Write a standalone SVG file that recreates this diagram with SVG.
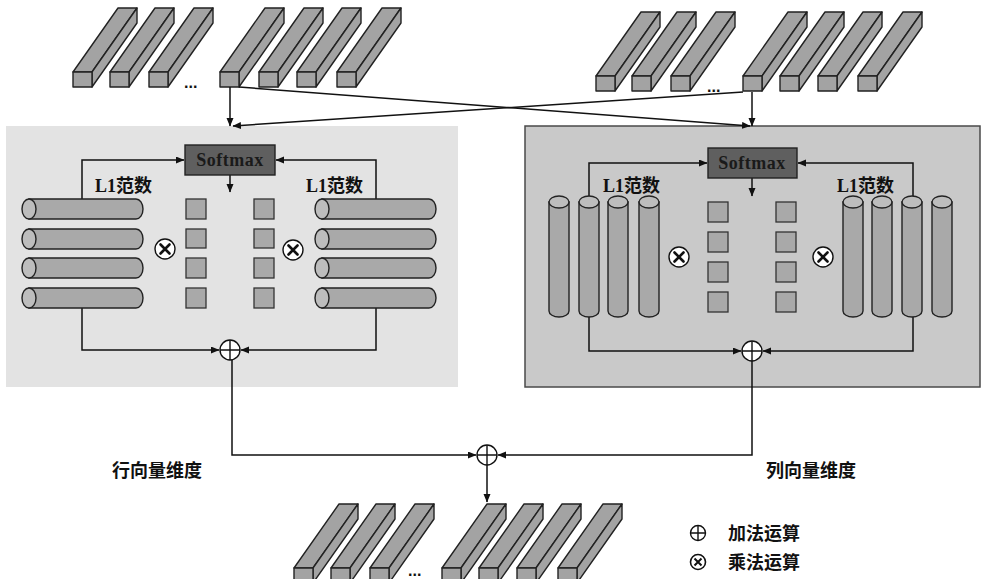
<svg xmlns="http://www.w3.org/2000/svg" xmlns:xlink="http://www.w3.org/1999/xlink" width="983" height="579" viewBox="0 0 983 579">
<style>
.face{fill:#a3a3a3;stroke:#222;stroke-width:1.4;stroke-linejoin:round}
.cyl{fill:#a9a9a9;stroke:#222;stroke-width:1.4}
.cap{fill:#bdbdbd;stroke:#222;stroke-width:1.4}
.sq{fill:#a9a9a9;stroke:#333;stroke-width:1.3}
.conn{fill:none;stroke:#111;stroke-width:1.5;marker-end:url(#ah)}
.op{fill:#fff;stroke:#111;stroke-width:1.4}
.opl{stroke:#111;stroke-width:1.4}
.mx{stroke:#111;stroke-width:2.6;stroke-linecap:round}
.sm{fill:#5f5f5f;stroke:#222;stroke-width:1.4}
.smt{font-family:"Liberation Serif",serif;font-weight:bold;font-size:18px;fill:#1a1a1a;text-anchor:middle;letter-spacing:0.5px}
.l1{font-family:"Liberation Serif","Noto Sans CJK SC",serif;font-weight:bold;font-size:18px;fill:#111}
.lab{font-family:"Noto Sans CJK SC",sans-serif;font-weight:bold;font-size:18px;fill:#111}
.dots{font-family:"Liberation Sans",sans-serif;font-weight:bold;font-size:16px;fill:#111}
</style>
<defs>
<marker id="ah" markerWidth="9" markerHeight="8" refX="8" refY="3.5" orient="auto" markerUnits="userSpaceOnUse">
<path d="M0,0 L8.5,3.5 L0,7 z" fill="#111"/>
</marker>
<g id="prism">
<path class="face" d="M0,0 L45,-64 L64,-64 L19,0 Z"/>
<path class="face" d="M19,0 L64,-64 L64,-49 L19,15 Z"/>
<rect class="face" x="0" y="0" width="19" height="15"/>
</g>
<g id="hcyl">
<path class="cyl" d="M7,0 H114 A7,10 0 0 1 114,20 H7 Z"/>
<ellipse class="cap" cx="7" cy="10" rx="7" ry="10"/>
</g>
<g id="vcyl">
<path class="cyl" d="M0,6 V115 A10,6 0 0 0 20,115 V6 Z"/>
<ellipse class="cap" cx="10" cy="6" rx="10" ry="6"/>
</g>
<g id="otimes">
<circle class="op" cx="0" cy="0" r="10"/>
<path class="mx" d="M-4.5,-4.5 L4.5,4.5 M4.5,-4.5 L-4.5,4.5"/>
</g>
<g id="oplus">
<circle class="op" cx="0" cy="0" r="10"/>
<path class="opl" d="M-10,0 H10 M0,-10 V10"/>
</g>
</defs>

<g id="panel-row">
<rect x="6" y="126" width="452" height="261" fill="#e3e3e3"/>
</g>
<g id="panel-col">
<rect x="525" y="126" width="455" height="261" fill="#c9c9c9" stroke="#4a4a4a" stroke-width="1.5"/>
</g>

<g id="input-left">
<use xlink:href="#prism" x="73" y="72"/>
<use xlink:href="#prism" x="110" y="72"/>
<use xlink:href="#prism" x="149" y="72"/>
<text class="dots" x="184" y="88">...</text>
<use xlink:href="#prism" x="220" y="72"/>
<use xlink:href="#prism" x="259" y="72"/>
<use xlink:href="#prism" x="297" y="72"/>
<use xlink:href="#prism" x="337" y="72"/>
</g>
<g id="input-right">
<use xlink:href="#prism" x="596" y="76"/>
<use xlink:href="#prism" x="632" y="76"/>
<use xlink:href="#prism" x="671" y="76"/>
<text class="dots" x="707" y="92">...</text>
<use xlink:href="#prism" x="743" y="76"/>
<use xlink:href="#prism" x="780" y="76"/>
<use xlink:href="#prism" x="818" y="76"/>
<use xlink:href="#prism" x="858" y="76"/>
</g>
<g id="output">
<use xlink:href="#prism" x="294" y="568"/>
<use xlink:href="#prism" x="331" y="568"/>
<use xlink:href="#prism" x="370" y="568"/>
<text class="dots" x="408" y="576">...</text>
<use xlink:href="#prism" x="442" y="568"/>
<use xlink:href="#prism" x="479" y="568"/>
<use xlink:href="#prism" x="517" y="568"/>
<use xlink:href="#prism" x="558" y="568"/>
</g>

<g id="connectors">
<path class="conn" d="M230,87 V126"/>
<path class="conn" d="M752,92 V126"/>
<path class="conn" d="M239,87 L750,126"/>
<path class="conn" d="M743,92 L233,126"/>
<path class="conn" d="M82,199 V160 H184"/>
<path class="conn" d="M376,199 V160 H276"/>
<path class="conn" d="M230,175 V192"/>
<path class="conn" d="M82,308 V350 H219"/>
<path class="conn" d="M376,308 V350 H241"/>
<path class="conn" d="M232,360 V455 H476"/>
<path class="conn" d="M589,197 V163 H707"/>
<path class="conn" d="M913,197 V163 H798"/>
<path class="conn" d="M752,178 V196"/>
<path class="conn" d="M589,317 V351 H741"/>
<path class="conn" d="M913,317 V351 H763"/>
<path class="conn" d="M752,361 V455 H498"/>
<path class="conn" d="M487,465 V502"/>
</g>

<g id="softmax-row">
<rect class="sm" x="185" y="145" width="90" height="30"/>
<text class="smt" x="230" y="166">Softmax</text>
</g>
<g id="softmax-col">
<rect class="sm" x="708" y="148" width="89" height="30"/>
<text class="smt" x="752" y="169">Softmax</text>
</g>

<g id="row-left">
<text class="l1" x="95" y="192">L1范数</text>
<use xlink:href="#hcyl" x="22" y="199"/>
<use xlink:href="#hcyl" x="22" y="229"/>
<use xlink:href="#hcyl" x="22" y="258"/>
<use xlink:href="#hcyl" x="22" y="288"/>
<use xlink:href="#otimes" x="165" y="249"/>
</g>
<g id="row-weights">
<rect class="sq" x="186" y="199" width="20" height="20"/>
<rect class="sq" x="186" y="229" width="20" height="19"/>
<rect class="sq" x="186" y="258" width="20" height="20"/>
<rect class="sq" x="186" y="288" width="20" height="20"/>
<rect class="sq" x="254" y="199" width="20" height="20"/>
<rect class="sq" x="254" y="229" width="20" height="19"/>
<rect class="sq" x="254" y="258" width="20" height="20"/>
<rect class="sq" x="254" y="288" width="20" height="20"/>
</g>
<g id="row-right">
<text class="l1" x="306" y="192">L1范数</text>
<use xlink:href="#otimes" x="293" y="250"/>
<use xlink:href="#hcyl" x="315" y="199"/>
<use xlink:href="#hcyl" x="315" y="229"/>
<use xlink:href="#hcyl" x="315" y="258"/>
<use xlink:href="#hcyl" x="315" y="288"/>
</g>
<g id="row-sum"><use xlink:href="#oplus" x="230" y="350"/></g>

<g id="col-left">
<text class="l1" x="603" y="192">L1范数</text>
<use xlink:href="#vcyl" x="549" y="196"/>
<use xlink:href="#vcyl" x="579" y="196"/>
<use xlink:href="#vcyl" x="608" y="196"/>
<use xlink:href="#vcyl" x="639" y="196"/>
<use xlink:href="#otimes" x="679" y="257"/>
</g>
<g id="col-weights">
<rect class="sq" x="708" y="202" width="20" height="20"/>
<rect class="sq" x="708" y="232" width="20" height="20"/>
<rect class="sq" x="708" y="262" width="20" height="20"/>
<rect class="sq" x="708" y="292" width="20" height="20"/>
<rect class="sq" x="776" y="202" width="20" height="20"/>
<rect class="sq" x="776" y="232" width="20" height="20"/>
<rect class="sq" x="776" y="262" width="20" height="20"/>
<rect class="sq" x="776" y="292" width="20" height="20"/>
</g>
<g id="col-right">
<text class="l1" x="837" y="192">L1范数</text>
<use xlink:href="#otimes" x="823" y="257"/>
<use xlink:href="#vcyl" x="843" y="196"/>
<use xlink:href="#vcyl" x="872" y="196"/>
<use xlink:href="#vcyl" x="902" y="196"/>
<use xlink:href="#vcyl" x="932" y="196"/>
</g>
<g id="col-sum"><use xlink:href="#oplus" x="752" y="351"/></g>

<g id="total-sum"><use xlink:href="#oplus" x="487" y="455"/></g>

<g id="labels">
<text class="lab" x="112" y="477">行向量维度</text>
<text class="lab" x="766" y="477">列向量维度</text>
</g>

<g id="legend">
<circle cx="698" cy="533" r="7.5" fill="#fff" stroke="#111" stroke-width="1.4"/>
<path d="M690.5,533 H705.5 M698,525.5 V540.5" stroke="#111" stroke-width="1.4"/>
<text class="lab" x="728" y="540" font-size="17">加法运算</text>
<circle cx="698" cy="562" r="7.5" fill="#fff" stroke="#111" stroke-width="1.6"/>
<path d="M694.5,558.5 L701.5,565.5 M701.5,558.5 L694.5,565.5" stroke="#111" stroke-width="2"/>
<text class="lab" x="728" y="569" font-size="17">乘法运算</text>
</g>
</svg>
